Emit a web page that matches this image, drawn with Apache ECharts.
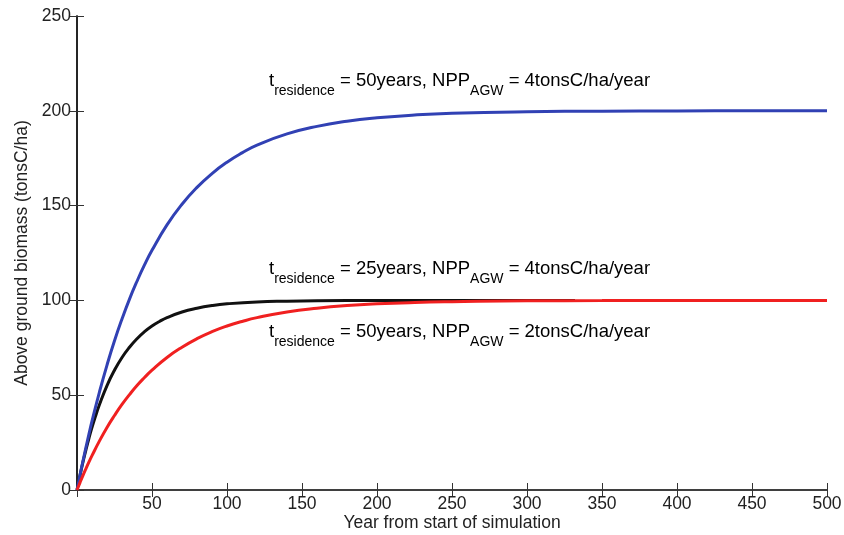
<!DOCTYPE html>
<html>
<head>
<meta charset="utf-8">
<script src="https://cdn.jsdelivr.net/npm/echarts@6/dist/echarts.min.js"></script>
<style>html,body{margin:0;padding:0;background:#fff}#c{width:844px;height:535px}</style>
</head>
<body>
<div id="c"></div>
<script>
var years50 = [0,2,4,6,8,10,15,20,25,30,35,40,45,50,60,70,80,90,100,110,120,140,160,180,200,225,250,300,350,400,450,500];
// Blue: t_residence = 50 years, NPP = 4 tonsC/ha/year
var blueValues = [0,7.8,15.4,22.6,29.6,36.3,51.8,65.9,78.7,90.2,100.7,110.1,118.7,126.4,139.8,150.7,159.6,166.9,172.9,177.8,181.9,187.8,191.8,194.5,196.3,197.8,198.7,199.5,199.8,199.9,200,200];
// Red: t_residence = 50 years, NPP = 2 tonsC/ha/year
var redValues = [0,3.9,7.7,11.3,14.8,18.1,25.9,33.0,39.3,45.1,50.3,55.1,59.3,63.2,69.9,75.3,79.8,83.5,86.5,88.9,90.9,93.9,95.9,97.3,98.2,98.9,99.3,99.8,99.9,100,100,100];
// Black: t_residence = 25 years, NPP = 4 tonsC/ha/year (drawn up to ~332 years)
var years25 = [0,2,4,6,8,10,12,15,20,25,30,35,40,45,50,55,60,70,80,90,100,120,140,160,200,250,300,332];
var blackValues = [0,7.7,14.8,21.3,27.4,33.0,38.1,45.1,55.1,63.2,69.9,75.3,79.8,83.5,86.5,88.9,90.9,93.9,95.9,97.3,98.2,99.2,99.6,99.8,100,100,100,100];

var xTicks = [50,100,150,200,250,300,350,400,450,500];
var yTicks = [0,50,100,150,200,250];

function pairs(xs, ys){ return xs.map(function(x,i){ return [x, ys[i]]; }); }

var FONT = '"Liberation Sans", Arial, sans-serif';
var axisCol = '#333';
var blue = '#3141b4', red = '#f02020', black = '#111';

function label(color, tau, npp){
  return {
    type: 'text',
    style: {
      text: '{m|t}{s|residence}{m| = ' + tau + 'years, NPP}{s|AGW}{m| = ' + npp + 'tonsC/ha/year}',
      rich: {
        m: {fontFamily: FONT, fontSize: 18.5, color: color, lineHeight: 21, verticalAlign: 'top'},
        s: {fontFamily: FONT, fontSize: 14, color: color, lineHeight: 16, verticalAlign: 'top', padding: [13,0,0,0]}
      }
    }
  };
}

var chart = echarts.init(document.getElementById('c'));
var l1 = label(blue, 50, 4); l1.left = 269; l1.top = 71;
var l2 = label(black, 25, 4); l2.left = 269; l2.top = 259;
var l3 = label(red, 50, 2); l3.left = 269; l3.top = 322;

chart.setOption({
  animation: false,
  backgroundColor: '#fff',
  grid: {left: 77, right: 17, top: 16, bottom: 45, containLabel: false, outerBoundsMode: 'none'},
  xAxis: [{
    type: 'value', min: 0, max: 500, interval: 50,
    name: 'Year from start of simulation', nameLocation: 'middle', nameGap: 24, nameMoveOverlap: false,
    nameTextStyle: {fontFamily: FONT, fontSize: 17.5, color: '#222'},
    axisLine: {show: true, lineStyle: {color: axisCol, width: 1.5}},
    axisTick: {show: true, inside: true, length: 7, lineStyle: {color: axisCol}},
    axisLabel: {fontFamily: FONT, fontSize: 17.5, color: '#222', margin: 5,
      formatter: function(v){ return xTicks.indexOf(v) >= 0 ? String(v) : ''; }},
    splitLine: {show: false}
  }, {
    type: 'value', min: 0, max: 500, interval: 50, position: 'top',
    axisLine: {show: true, lineStyle: {color: axisCol, width: 1.5}},
    axisTick: {show: true, inside: true, length: 7, lineStyle: {color: axisCol}},
    axisLabel: {show: false}, splitLine: {show: false}
  }],
  yAxis: [{
    type: 'value', min: 0, max: 250, interval: 50,
    name: 'Above ground biomass (tonsC/ha)', nameLocation: 'middle', nameGap: 45,
    nameTextStyle: {fontFamily: FONT, fontSize: 17.5, color: '#222'},
    axisLine: {show: true, lineStyle: {color: axisCol, width: 1.5}},
    axisTick: {show: true, inside: true, length: 7, lineStyle: {color: axisCol}},
    axisLabel: {fontFamily: FONT, fontSize: 17.5, color: '#222', margin: 6,
      formatter: function(v){ return yTicks.indexOf(v) >= 0 ? String(v) : ''; }},
    splitLine: {show: false}
  }, {
    type: 'value', min: 0, max: 250, interval: 50, position: 'right',
    axisLine: {show: true, lineStyle: {color: '#111', width: 1.5}},
    axisTick: {show: true, inside: true, length: 7, lineStyle: {color: axisCol}},
    axisLabel: {show: false}, splitLine: {show: false}
  }],
  series: [
    {type: 'line', name: 'blue', data: pairs(years50, blueValues), smooth: true, showSymbol: false,
      lineStyle: {color: blue, width: 3}, z: 3},
    {type: 'line', name: 'black', data: pairs(years25, blackValues), smooth: true, showSymbol: false,
      lineStyle: {color: black, width: 3}, z: 2},
    {type: 'line', name: 'red', data: pairs(years50, redValues), smooth: true, showSymbol: false,
      lineStyle: {color: red, width: 3}, z: 4}
  ],
  graphic: [l1, l2, l3]
});
</script>
</body>
</html>
